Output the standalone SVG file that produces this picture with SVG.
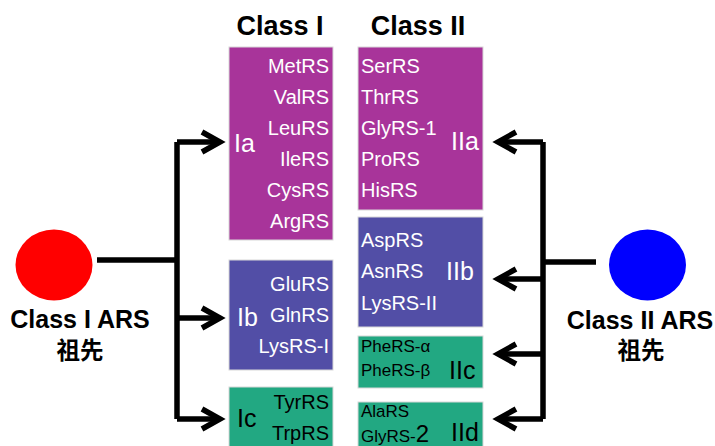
<svg xmlns="http://www.w3.org/2000/svg" width="715" height="446" viewBox="0 0 715 446">
<style>
text{font-family:"Liberation Sans",Arial,"Noto Sans CJK SC",sans-serif}
.hd{font-size:27px;font-weight:bold;fill:#000;text-anchor:middle}
.lb{font-size:25px;font-weight:bold;fill:#000;text-anchor:middle}
.cj{font-size:23.5px;font-weight:bold;fill:#000;text-anchor:middle;font-family:"Noto Sans CJK SC","Noto Sans CJK JP",sans-serif}
.it{font-size:20px;fill:#fff}
.itk{font-size:20px;fill:#000}
.sm{font-size:17px;fill:#000}
.gl{font-size:25px;fill:#fff}
.glk{font-size:25px;fill:#000}
.r{text-anchor:end}
.mag{fill:#A8349A;stroke:#d8d8d8;stroke-width:1}
.ind{fill:#524EA6;stroke:#d8d8d8;stroke-width:1}
.grn{fill:#22A882;stroke:#d8d8d8;stroke-width:1}
.ln{fill:none;stroke:#000;stroke-width:5.5}
.ah{fill:none;stroke:#000;stroke-width:5.5;stroke-linejoin:miter}
</style>
<text class="hd" x="280" y="35">Class I</text>
<text class="hd" x="418" y="35">Class II</text>

<g id="ancestor1">
<ellipse cx="54" cy="265" rx="38.5" ry="35.5" fill="#FF0000"/>
<text class="lb" x="80" y="328">Class I ARS</text>
<text class="cj" x="80" y="359">祖先</text>
</g>
<g id="ancestor2">
<ellipse cx="647.5" cy="265" rx="38.5" ry="35.5" fill="#0000FF"/>
<text class="lb" x="640" y="329">Class II ARS</text>
<text class="cj" x="641" y="359">祖先</text>
</g>

<g id="Ia">
<rect class="mag" x="229" y="47" width="104" height="193"/>
<text class="gl" x="234" y="152">Ia</text>
<text class="it r" x="329" y="73">MetRS</text>
<text class="it r" x="329" y="104">ValRS</text>
<text class="it r" x="329" y="135">LeuRS</text>
<text class="it r" x="329" y="166">IleRS</text>
<text class="it r" x="329" y="197">CysRS</text>
<text class="it r" x="329" y="228">ArgRS</text>
</g>
<g id="Ib">
<rect class="ind" x="229" y="260" width="104" height="110"/>
<text class="gl" x="237" y="326">Ib</text>
<text class="it r" x="329" y="291">GluRS</text>
<text class="it r" x="329" y="322">GlnRS</text>
<text class="it r" x="329" y="353">LysRS-I</text>
</g>
<g id="Ic">
<rect class="grn" x="229" y="387" width="104" height="70"/>
<text class="glk" x="237" y="427">Ic</text>
<text class="itk r" x="329" y="409">TyrRS</text>
<text class="itk r" x="329" y="440">TrpRS</text>
</g>

<g id="IIa">
<rect class="mag" x="358" y="47" width="125" height="163"/>
<text class="gl" x="451" y="150">IIa</text>
<text class="it" x="361" y="73">SerRS</text>
<text class="it" x="361" y="104">ThrRS</text>
<text class="it" x="361" y="135">GlyRS-1</text>
<text class="it" x="361" y="166">ProRS</text>
<text class="it" x="361" y="197">HisRS</text>
</g>
<g id="IIb">
<rect class="ind" x="358" y="217" width="125" height="110"/>
<text class="gl" x="446" y="280">IIb</text>
<text class="it" x="361" y="247">AspRS</text>
<text class="it" x="361" y="278">AsnRS</text>
<text class="it" x="361" y="310">LysRS-II</text>
</g>
<g id="IIc">
<rect class="grn" x="358" y="336" width="125" height="52"/>
<text class="glk" x="449" y="379">IIc</text>
<text class="sm" x="361" y="352">PheRS-α</text>
<text class="sm" x="361" y="376">PheRS-β</text>
</g>
<g id="IId">
<rect class="grn" x="358" y="402" width="125" height="55"/>
<text class="glk" x="451" y="441">IId</text>
<text class="sm" x="361" y="417">AlaRS</text>
<text class="sm" x="361" y="442">GlyRS-<tspan font-size="24">2</tspan></text>
</g>

<g id="connectors">
<path class="ln" d="M97,260 H177 M177,142 V419 M177,142 H219 M177,318 H219 M177,419 H219"/>
<path class="ah" d="M202,132 L220,142 L202,152 M202,308 L220,318 L202,328 M202,409 L220,419 L202,429"/>
<path class="ln" d="M596,262 H543 M543,142 V419 M543,142 H499 M543,279 H499 M543,354 H499 M543,419 H499"/>
<path class="ah" d="M516,132 L498,142 L516,152 M516,269 L498,279 L516,289 M516,344 L498,354 L516,364 M516,409 L498,419 L516,429"/>
</g>
</svg>
